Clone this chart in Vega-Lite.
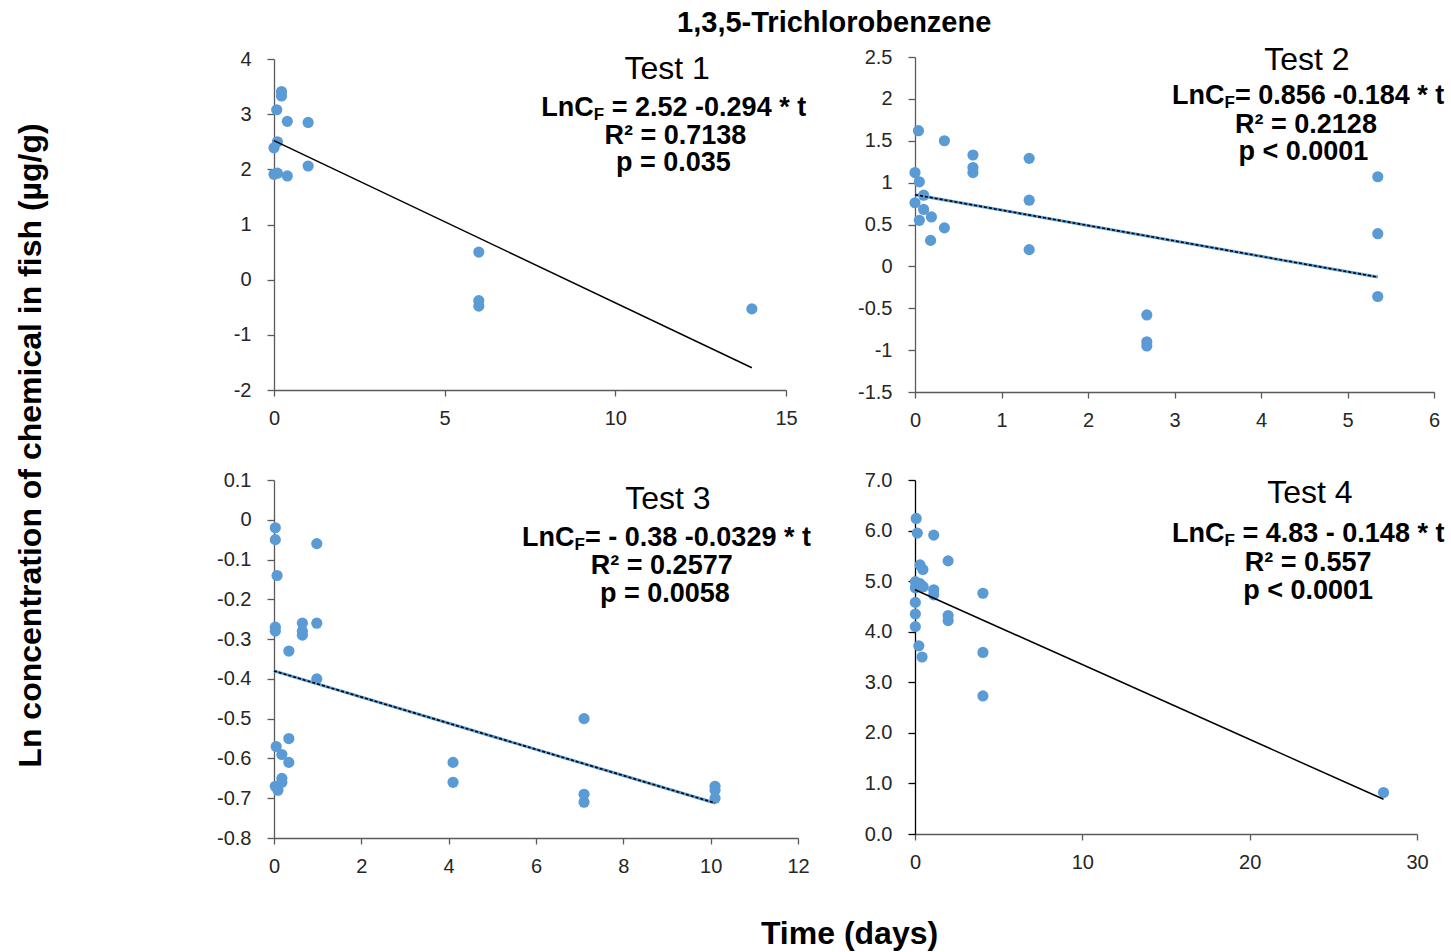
{
  "$schema": "https://vega.github.io/schema/vega-lite/v6.json",
  "background": "white",
  "padding": {"left": 13, "top": 9, "right": 5, "bottom": 5},
  "title": {"text": "1,3,5-Trichlorobenzene", "font": "Liberation Sans", "fontSize": 29, "fontWeight": "bold", "color": "black", "anchor": "middle", "frame": "bounds", "dx": 105, "offset": 6},
  "datasets": {
    "t1": [{"t":0.22,"lnC":3.41},{"t":0.22,"lnC":3.33},{"t":0.08,"lnC":3.08},{"t":0.39,"lnC":2.87},{"t":1.0,"lnC":2.85},{"t":0.1,"lnC":2.5},{"t":0,"lnC":2.39},{"t":1.0,"lnC":2.06},{"t":0,"lnC":1.91},{"t":0.1,"lnC":1.93},{"t":0.39,"lnC":1.88},{"t":6,"lnC":0.5},{"t":6,"lnC":-0.38},{"t":6,"lnC":-0.48},{"t":14,"lnC":-0.53}],
    "t2": [{"t":0.04,"lnC":1.62},{"t":0.34,"lnC":1.5},{"t":0.67,"lnC":1.33},{"t":0.67,"lnC":1.18},{"t":0.67,"lnC":1.12},{"t":1.32,"lnC":1.29},{"t":0,"lnC":1.12},{"t":0.05,"lnC":1.01},{"t":0.1,"lnC":0.85},{"t":0,"lnC":0.76},{"t":0.1,"lnC":0.68},{"t":0.19,"lnC":0.59},{"t":0.05,"lnC":0.55},{"t":0.34,"lnC":0.46},{"t":0.18,"lnC":0.31},{"t":1.32,"lnC":0.79},{"t":1.32,"lnC":0.2},{"t":5.35,"lnC":1.07},{"t":5.35,"lnC":0.39},{"t":5.35,"lnC":-0.36},{"t":2.68,"lnC":-0.58},{"t":2.68,"lnC":-0.9},{"t":2.68,"lnC":-0.95}],
    "t3": [{"t":0.03,"lnC":-0.02},{"t":0.03,"lnC":-0.05},{"t":0.98,"lnC":-0.06},{"t":0.07,"lnC":-0.14},{"t":0.03,"lnC":-0.27},{"t":0.03,"lnC":-0.28},{"t":0.65,"lnC":-0.26},{"t":0.65,"lnC":-0.28},{"t":0.65,"lnC":-0.29},{"t":0.98,"lnC":-0.26},{"t":0.34,"lnC":-0.33},{"t":0.98,"lnC":-0.4},{"t":0.34,"lnC":-0.55},{"t":0.05,"lnC":-0.57},{"t":0.18,"lnC":-0.59},{"t":0.34,"lnC":-0.61},{"t":0.18,"lnC":-0.65},{"t":0.18,"lnC":-0.66},{"t":0.03,"lnC":-0.67},{"t":0.09,"lnC":-0.68},{"t":4.1,"lnC":-0.61},{"t":4.1,"lnC":-0.66},{"t":7.1,"lnC":-0.5},{"t":7.1,"lnC":-0.69},{"t":7.1,"lnC":-0.71},{"t":10.1,"lnC":-0.67},{"t":10.1,"lnC":-0.68},{"t":10.1,"lnC":-0.7}],
    "t4": [{"t":0.07,"lnC":6.24},{"t":0.14,"lnC":5.95},{"t":1.12,"lnC":5.91},{"t":1.98,"lnC":5.4},{"t":0.3,"lnC":5.32},{"t":0.47,"lnC":5.23},{"t":0.02,"lnC":4.99},{"t":0.3,"lnC":4.95},{"t":0.02,"lnC":4.87},{"t":0.49,"lnC":4.89},{"t":1.12,"lnC":4.83},{"t":1.12,"lnC":4.73},{"t":0.02,"lnC":4.58},{"t":0.02,"lnC":4.35},{"t":0.02,"lnC":4.1},{"t":1.98,"lnC":4.32},{"t":1.98,"lnC":4.22},{"t":4.06,"lnC":4.76},{"t":0.23,"lnC":3.72},{"t":0.42,"lnC":3.5},{"t":4.06,"lnC":3.59},{"t":4.06,"lnC":2.73},{"t":28.0,"lnC":0.82}],
    "fit1": [{"t":0,"lnC":2.52},{"t":14,"lnC":-1.596}],
    "fit2": [{"t":0,"lnC":0.856},{"t":5.35,"lnC":-0.128}],
    "fit3": [{"t":0,"lnC":-0.38},{"t":10.1,"lnC":-0.712}],
    "fit4": [{"t":0,"lnC":4.83},{"t":28,"lnC":0.686}]
  },
  "columns": 2,
  "spacing": {"row": 88, "column": 117},
  "bounds": "flush",
  "align": "each",
  "center": {"row": true},
  "concat": [
    {
      "width": 512, "height": 331,
      "layer": [
        {"data": {"name": "t1"}, "mark": {"type": "point"},
         "encoding": {
           "x": {"field": "t", "type": "quantitative", "scale": {"domain": [0, 15], "nice": false, "zero": false}, "axis": {"values": [0, 5, 10, 15], "tickCount": 30, "labelExpr": "'' + datum.value", "labelOverlap": false, "title": null}},
           "y": {"field": "lnC", "type": "quantitative", "scale": {"domain": [-2, 4], "nice": false, "zero": false}, "axis": {"values": [-2, -1, 0, 1, 2, 3, 4], "tickCount": 30, "labelExpr": "'' + datum.value", "labelOverlap": false, "title": "Ln concentration of chemical in fish (µg/g)", "titleX": -244, "titleY": 386, "titleAngle": -90, "titleAlign": "center", "titleBaseline": "middle"}}}},
        {"data": {"name": "fit1"}, "mark": {"type": "line"},
         "encoding": {"x": {"field": "t", "type": "quantitative"}, "y": {"field": "lnC", "type": "quantitative"}}},
        {"data": {"values": [{}]}, "mark": {"type": "text", "text": "Test 1", "fontSize": 32, "fontWeight": "normal", "align": "center"},
         "encoding": {"x": {"datum": 11.52}, "y": {"datum": 3.82}}},
        {"data": {"values": [{}]}, "mark": {"type": "text", "text": "LnC", "align": "left"},
         "encoding": {"x": {"datum": 7.83}, "y": {"datum": 3.11}}},
        {"data": {"values": [{}]}, "mark": {"type": "text", "text": "F", "fontSize": 17, "align": "left", "dx": 52.5, "dy": 7},
         "encoding": {"x": {"datum": 7.83}, "y": {"datum": 3.11}}},
        {"data": {"values": [{}]}, "mark": {"type": "text", "text": "= 2.52 -0.294 * t", "align": "left", "dx": 70.5},
         "encoding": {"x": {"datum": 7.83}, "y": {"datum": 3.11}}},
        {"data": {"values": [{}]}, "mark": {"type": "text", "text": "R² = 0.7138", "align": "center"},
         "encoding": {"x": {"datum": 11.76}, "y": {"datum": 2.6}}},
        {"data": {"values": [{}]}, "mark": {"type": "text", "text": "p = 0.035", "align": "center"},
         "encoding": {"x": {"datum": 11.7}, "y": {"datum": 2.11}}}
      ]
    },
    {
      "width": 519, "height": 335,
      "layer": [
        {"data": {"name": "t2"}, "mark": {"type": "point"},
         "encoding": {
           "x": {"field": "t", "type": "quantitative", "scale": {"domain": [0, 6], "nice": false, "zero": false}, "axis": {"values": [0, 1, 2, 3, 4, 5, 6], "tickCount": 30, "labelExpr": "'' + datum.value", "labelOverlap": false, "title": null}},
           "y": {"field": "lnC", "type": "quantitative", "scale": {"domain": [-1.5, 2.5], "nice": false, "zero": false}, "axis": {"values": [-1.5, -1, -0.5, 0, 0.5, 1, 1.5, 2, 2.5], "tickCount": 30, "labelExpr": "'' + datum.value", "labelOverlap": false, "title": null}}}},
        {"data": {"name": "fit2"}, "mark": {"type": "line", "color": "#5B9BD5", "strokeWidth": 3},
         "encoding": {"x": {"field": "t", "type": "quantitative"}, "y": {"field": "lnC", "type": "quantitative"}}},
        {"data": {"name": "fit2"}, "mark": {"type": "line", "color": "black", "strokeWidth": 1.6, "strokeDash": [3, 2]},
         "encoding": {"x": {"field": "t", "type": "quantitative"}, "y": {"field": "lnC", "type": "quantitative"}}},
        {"data": {"values": [{}]}, "mark": {"type": "text", "text": "Test 2", "fontSize": 32, "fontWeight": "normal", "align": "center"},
         "encoding": {"x": {"datum": 4.53}, "y": {"datum": 2.46}}},
        {"data": {"values": [{}]}, "mark": {"type": "text", "text": "LnC", "align": "left"},
         "encoding": {"x": {"datum": 2.97}, "y": {"datum": 2.03}}},
        {"data": {"values": [{}]}, "mark": {"type": "text", "text": "F", "fontSize": 17, "align": "left", "dx": 52.5, "dy": 7},
         "encoding": {"x": {"datum": 2.97}, "y": {"datum": 2.03}}},
        {"data": {"values": [{}]}, "mark": {"type": "text", "text": "= 0.856 -0.184 * t", "align": "left", "dx": 63},
         "encoding": {"x": {"datum": 2.97}, "y": {"datum": 2.03}}},
        {"data": {"values": [{}]}, "mark": {"type": "text", "text": "R² = 0.2128", "align": "center"},
         "encoding": {"x": {"datum": 4.52}, "y": {"datum": 1.69}}},
        {"data": {"values": [{}]}, "mark": {"type": "text", "text": "p < 0.0001", "align": "center"},
         "encoding": {"x": {"datum": 4.49}, "y": {"datum": 1.36}}}
      ]
    },
    {
      "width": 524, "height": 358,
      "layer": [
        {"data": {"name": "t3"}, "mark": {"type": "point"},
         "encoding": {
           "x": {"field": "t", "type": "quantitative", "scale": {"domain": [0, 12], "nice": false, "zero": false}, "axis": {"values": [0, 2, 4, 6, 8, 10, 12], "tickCount": 30, "labelExpr": "'' + datum.value", "labelOverlap": false, "title": "Time (days)", "titleX": 575, "titleY": 95, "titleAlign": "center", "titleBaseline": "middle"}},
           "y": {"field": "lnC", "type": "quantitative", "scale": {"domain": [-0.8, 0.1], "nice": false, "zero": false}, "axis": {"values": [-0.8, -0.7, -0.6, -0.5, -0.4, -0.3, -0.2, -0.1, 0, 0.1], "tickCount": 30, "labelExpr": "'' + datum.value", "labelOverlap": false, "title": null}}}},
        {"data": {"name": "fit3"}, "mark": {"type": "line", "color": "#5B9BD5", "strokeWidth": 3},
         "encoding": {"x": {"field": "t", "type": "quantitative"}, "y": {"field": "lnC", "type": "quantitative"}}},
        {"data": {"name": "fit3"}, "mark": {"type": "line", "color": "black", "strokeWidth": 1.6, "strokeDash": [3, 2]},
         "encoding": {"x": {"field": "t", "type": "quantitative"}, "y": {"field": "lnC", "type": "quantitative"}}},
        {"data": {"values": [{}]}, "mark": {"type": "text", "text": "Test 3", "fontSize": 32, "fontWeight": "normal", "align": "center"},
         "encoding": {"x": {"datum": 9.02}, "y": {"datum": 0.052}}},
        {"data": {"values": [{}]}, "mark": {"type": "text", "text": "LnC", "align": "left"},
         "encoding": {"x": {"datum": 5.68}, "y": {"datum": -0.046}}},
        {"data": {"values": [{}]}, "mark": {"type": "text", "text": "F", "fontSize": 17, "align": "left", "dx": 52.5, "dy": 7},
         "encoding": {"x": {"datum": 5.68}, "y": {"datum": -0.046}}},
        {"data": {"values": [{}]}, "mark": {"type": "text", "text": "= - 0.38 -0.0329 * t", "align": "left", "dx": 63},
         "encoding": {"x": {"datum": 5.68}, "y": {"datum": -0.046}}},
        {"data": {"values": [{}]}, "mark": {"type": "text", "text": "R² = 0.2577", "align": "center"},
         "encoding": {"x": {"datum": 8.88}, "y": {"datum": -0.116}}},
        {"data": {"values": [{}]}, "mark": {"type": "text", "text": "p = 0.0058", "align": "center"},
         "encoding": {"x": {"datum": 8.95}, "y": {"datum": -0.187}}}
      ]
    },
    {
      "width": 502, "height": 354,
      "layer": [
        {"data": {"name": "t4"}, "mark": {"type": "point"},
         "encoding": {
           "x": {"field": "t", "type": "quantitative", "scale": {"domain": [0, 30], "nice": false, "zero": false}, "axis": {"values": [0, 10, 20, 30], "tickCount": 30, "labelExpr": "'' + datum.value", "labelOverlap": false, "title": null}},
           "y": {"field": "lnC", "type": "quantitative", "scale": {"domain": [0, 7], "nice": false, "zero": false}, "axis": {"values": [0, 1, 2, 3, 4, 5, 6, 7], "tickCount": 30, "labelExpr": "format(datum.value, '.1f')", "labelOverlap": false, "title": null, "domainColor": "black", "tickColor": "black"}}}},
        {"data": {"name": "fit4"}, "mark": {"type": "line"},
         "encoding": {"x": {"field": "t", "type": "quantitative"}, "y": {"field": "lnC", "type": "quantitative"}}},
        {"data": {"values": [{}]}, "mark": {"type": "text", "text": "Test 4", "fontSize": 32, "fontWeight": "normal", "align": "center"},
         "encoding": {"x": {"datum": 23.6}, "y": {"datum": 6.74}}},
        {"data": {"values": [{}]}, "mark": {"type": "text", "text": "LnC", "align": "left"},
         "encoding": {"x": {"datum": 15.36}, "y": {"datum": 5.93}}},
        {"data": {"values": [{}]}, "mark": {"type": "text", "text": "F", "fontSize": 17, "align": "left", "dx": 52.5, "dy": 7},
         "encoding": {"x": {"datum": 15.36}, "y": {"datum": 5.93}}},
        {"data": {"values": [{}]}, "mark": {"type": "text", "text": "= 4.83 - 0.148 * t", "align": "left", "dx": 70.5},
         "encoding": {"x": {"datum": 15.36}, "y": {"datum": 5.93}}},
        {"data": {"values": [{}]}, "mark": {"type": "text", "text": "R² = 0.557", "align": "center"},
         "encoding": {"x": {"datum": 23.49}, "y": {"datum": 5.36}}},
        {"data": {"values": [{}]}, "mark": {"type": "text", "text": "p < 0.0001", "align": "center"},
         "encoding": {"x": {"datum": 23.49}, "y": {"datum": 4.81}}}
      ]
    }
  ],
  "config": {
    "view": {"stroke": null},
    "axis": {"grid": false, "domainColor": "#5a5a5a", "domainWidth": 1.3, "tickColor": "#5a5a5a", "tickWidth": 1.3, "tickSize": 7, "labelFont": "Liberation Sans", "labelFontSize": 20, "labelColor": "#262626", "labelPadding": 16, "labelFlush": false, "labelOverlap": false, "labelBound": false, "titleFont": "Liberation Sans", "titleFontWeight": "bold", "titleFontSize": 32, "titleColor": "black"},
    "axisX": {"tickSize": 6, "labelPadding": 12},
    "point": {"filled": true, "shape": "circle", "size": 125, "color": "#5B9BD5", "opacity": 1},
    "line": {"color": "black", "strokeWidth": 1.5},
    "text": {"font": "Liberation Sans", "fontSize": 27, "fontWeight": "bold", "color": "black", "baseline": "middle"}
  }
}
